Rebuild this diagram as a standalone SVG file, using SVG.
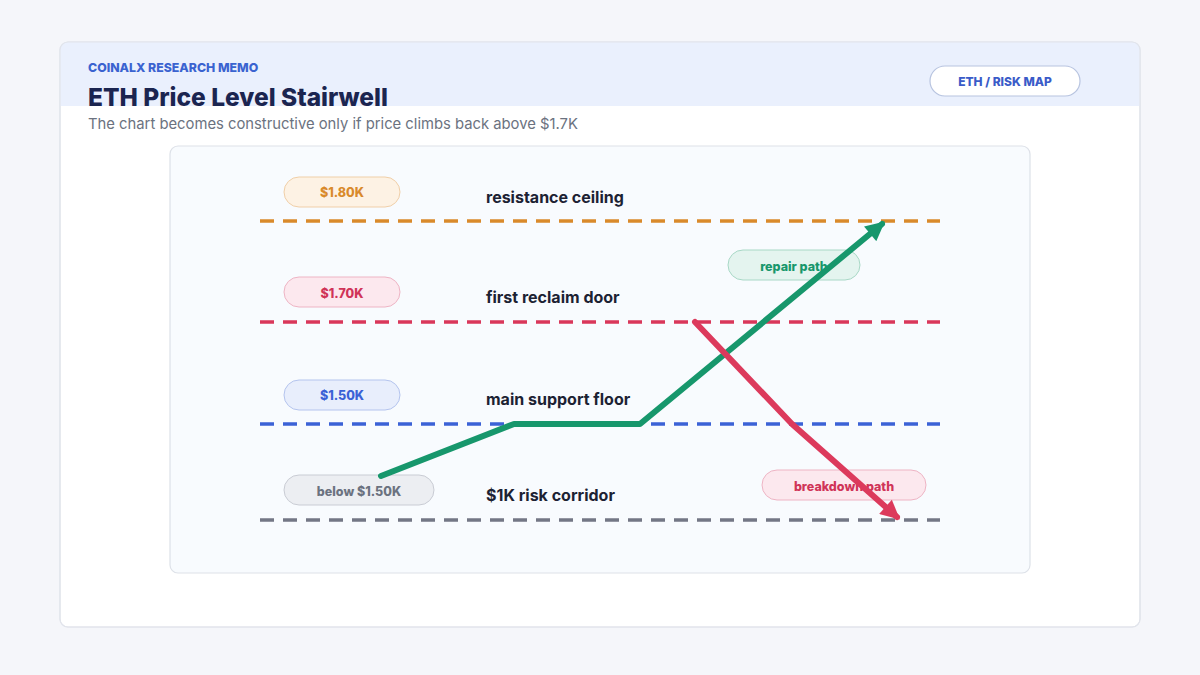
<svg xmlns="http://www.w3.org/2000/svg" width="1200" height="675" viewBox="0 0 1200 675">
<defs>
<style>
text{font-family:Inter,"Noto Sans","Liberation Sans",sans-serif}
.lvl{fill:none;stroke-width:3.5;stroke-dasharray:14 9}
.pill-t{font-size:12.5px;font-weight:800;text-anchor:middle}
.lt{font-size:16px;font-weight:700;fill:#1c2233}
.path{fill:none;stroke-width:6;stroke-linecap:round;stroke-linejoin:round}
</style>
<marker id="ag" viewBox="0 0 10 10" refX="8" refY="5" markerWidth="3.4" markerHeight="3.2" orient="auto" markerUnits="strokeWidth"><path d="M0,0 L10,5 L0,10 z" fill="#17976c"/></marker>
<marker id="ar" viewBox="0 0 10 10" refX="8" refY="5" markerWidth="3.4" markerHeight="3.2" orient="auto" markerUnits="strokeWidth"><path d="M0,0 L10,5 L0,10 z" fill="#dc3a5c"/></marker>
<clipPath id="cardclip"><rect x="60" y="42" width="1080" height="585" rx="8"/></clipPath>
</defs>
<rect width="1200" height="675" fill="#f5f6fa"/>
<g id="card">
<rect x="60" y="42" width="1080" height="585" rx="8" fill="#ffffff" stroke="#e1e4eb" stroke-width="1.2"/>
<rect x="60" y="42" width="1080" height="64" fill="#eaf0fd" clip-path="url(#cardclip)"/>
<rect x="60" y="42" width="1080" height="585" rx="8" fill="none" stroke="#e1e4eb" stroke-width="1.2"/>
<text x="88" y="72" font-size="12.3" font-weight="800" fill="#3a63d0">COINALX RESEARCH MEMO</text>
<text x="88" y="106" font-size="24.5" font-weight="800" fill="#1b2550">ETH Price Level Stairwell</text>
<text x="88" y="129" font-size="14.8" fill="#6b7280">The chart becomes constructive only if price climbs back above $1.7K</text>
</g>
<g id="tag">
<rect x="930" y="66" width="150" height="30" rx="15" fill="#ffffff" stroke="#b8c4e0" stroke-width="1.2"/>
<text x="1005" y="86" font-size="12" font-weight="800" fill="#3a5bc8" text-anchor="middle">ETH / RISK MAP</text>
</g>
<g id="panel">
<rect x="170" y="146" width="860" height="427" rx="8" fill="#f8fbfe" stroke="#dde1e8" stroke-width="1.2"/>
</g>
<g id="levels">
<g id="level-180">
<line class="lvl" x1="260" y1="221" x2="940" y2="221" stroke="#d98a2b"/>
<rect x="284" y="177" width="116" height="30" rx="15" fill="#fdf2e4" stroke="#f0cfa8"/>
<text class="pill-t" x="342" y="197" fill="#d98a2b">$1.80K</text>
<text class="lt" x="486" y="203">resistance ceiling</text>
</g>
<g id="level-170">
<line class="lvl" x1="260" y1="322" x2="940" y2="322" stroke="#d9375a"/>
<rect x="284" y="277" width="116" height="30" rx="15" fill="#fce8ee" stroke="#eeb4c4"/>
<text class="pill-t" x="342" y="298" fill="#d03458">$1.70K</text>
<text class="lt" x="486" y="303">first reclaim door</text>
</g>
<g id="level-150">
<line class="lvl" x1="260" y1="424" x2="940" y2="424" stroke="#3b62d6"/>
<rect x="284" y="380" width="116" height="30" rx="15" fill="#e8eefc" stroke="#b4c4ee"/>
<text class="pill-t" x="342" y="400" fill="#3b62d6">$1.50K</text>
<text class="lt" x="486" y="405">main support floor</text>
</g>
<g id="level-1k">
<line class="lvl" x1="260" y1="520" x2="940" y2="520" stroke="#737785"/>
<rect x="284" y="475" width="150" height="30" rx="15" fill="#eceef2" stroke="#c9ccd4"/>
<text class="pill-t" x="359" y="496" fill="#6b7280">below $1.50K</text>
<text class="lt" x="486" y="501">$1K risk corridor</text>
</g>
</g>
<g id="path-labels">
<g id="repair-label">
<rect x="728" y="250" width="132" height="30" rx="15" fill="#e4f4ef" stroke="#a8d8c6"/>
<text class="pill-t" x="794" y="271" fill="#17976c">repair path</text>
</g>
<g id="breakdown-label">
<rect x="762" y="470" width="164" height="30" rx="15" fill="#fce8ee" stroke="#eeb4c4"/>
<text class="pill-t" x="844" y="491" fill="#d03458">breakdown path</text>
</g>
</g>
<g id="connectors">
<polyline class="path" points="381,476 514,424 640,424 882,224" stroke="#17976c" marker-end="url(#ag)"/>
<polyline class="path" points="695,322 792,424 897,517" stroke="#dc3a5c" marker-end="url(#ar)"/>
</g>
</svg>
